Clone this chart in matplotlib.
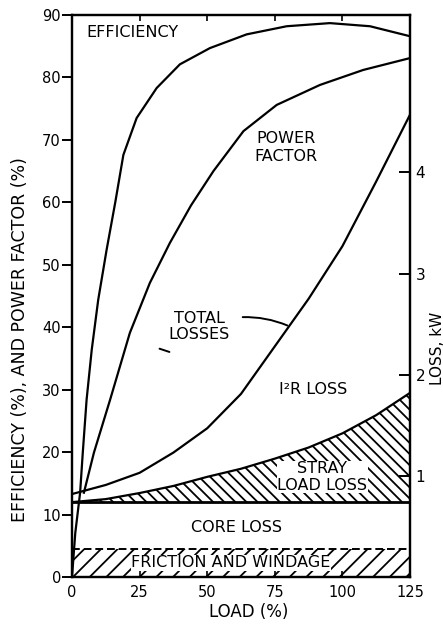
import matplotlib
matplotlib.use("Agg")
import matplotlib.pyplot as plt
import numpy as np

# ---------------- data ----------------
load_eff = [0, 1.2, 3, 4, 5.4, 7.3, 9.7, 12.8, 16, 19.0, 23.9, 31.3, 39.9, 51.0,
            64.6, 79.4, 95.4, 110.2, 125]
efficiency = [0, 7, 13.5, 20, 28.4, 36.4, 44.4, 52.4, 60, 67.6, 73.5, 78.3, 82.1,
              84.7, 86.9, 88.2, 88.7, 88.2, 86.6]

load_pf = [4.4, 8.1, 14.1, 21.4, 28.8, 36.2, 44, 52.3, 63.4, 75.7, 91.7, 107.7, 125]
power_factor = [13.5, 19.9, 28.4, 39.1, 47.1, 53.5, 59.5, 65.0, 71.4, 75.6, 78.8,
                81.2, 83.1]

load_loss = [0, 12.5, 25, 37.5, 50, 62.5, 75, 87.5, 100, 112.5, 125]
total_loss_kw = [0.82, 0.91, 1.03, 1.23, 1.47, 1.81, 2.28, 2.75, 3.27, 3.91, 4.57]
stray_loss_kw = [0, 0.03, 0.09, 0.16, 0.25, 0.33, 0.43, 0.54, 0.68, 0.86, 1.08]
friction_windage_kw = 0.28
core_loss_kw = 0.46

x_ticks = [0, 25, 50, 75, 100, 125]
y_ticks = [0, 10, 20, 30, 40, 50, 60, 70, 80, 90]
loss_ticks = [1, 2, 3, 4]
pct_per_kw = 16.2  # scale relation between left (%) and right (kW) axes

# ---------------- figure ----------------
plt.rcParams['font.family'] = ['DejaVu Sans']
plt.rcParams['hatch.linewidth'] = 1.3
plt.rcParams['hatch.color'] = 'black'

W, H = 443, 627
fig = plt.figure(figsize=(W / 100, H / 100), dpi=100)
L, R, T, B = 72, 410, 15, 577
ax = fig.add_axes([L / W, 1 - B / H, (R - L) / W, (B - T) / H])
ax.set_xlim(0, 125)
ax.set_ylim(0, 90)
ax2 = ax.twinx()
ax2.set_ylim(0, 90 / pct_per_kw)

for a in (ax, ax2):
    for s in a.spines.values():
        s.set_linewidth(1.6)

lw = 1.6
# efficiency and power factor on left axis
ax.plot(load_eff, efficiency, color='black', lw=lw, zorder=3)
ax.plot(load_pf, power_factor, color='black', lw=lw, zorder=3)

# losses on right axis
load_arr = np.array(load_loss)
fw = np.full(len(load_loss), friction_windage_kw)
core_top = fw + core_loss_kw
stray_top = core_top + np.array(stray_loss_kw)

ax2.fill_between(load_arr, 0, fw, facecolor='white', edgecolor='black',
                 hatch='//', linewidth=0, zorder=1)
ax2.plot(load_arr, fw, color='black', lw=1.4, ls=(0, (4, 2)), zorder=2)
ax2.fill_between(load_arr, core_top, stray_top, facecolor='white',
                 edgecolor='black', hatch='\\\\\\', linewidth=0, zorder=1)
ax2.plot(load_arr, core_top, color='black', lw=2.0, zorder=2)
ax2.plot(load_arr, stray_top, color='black', lw=lw, zorder=2)
ax2.plot(load_arr, total_loss_kw, color='black', lw=lw, zorder=2)

# ticks
ax.set_xticks(x_ticks)
ax.set_yticks(y_ticks)
ax.tick_params(axis='y', direction='out', length=7, width=1.4, pad=1, labelsize=10.5)
ax.tick_params(axis='x', direction='in', length=4, width=1.2, pad=6, labelsize=10.5,
               top=True)
ax2.set_yticks(loss_ticks)
ax2.tick_params(axis='y', direction='in', length=8, width=1.4, pad=4, labelsize=11)

# text labels
fs = 11.5
ax.text(5.2, 87.2, 'EFFICIENCY', ha='left', va='center', fontsize=fs, zorder=5)
ax.text(79.3, 68.8, 'POWER\nFACTOR', ha='center', va='center', fontsize=fs,
        linespacing=1.2, zorder=5)
ax.text(47, 40.1, 'TOTAL\nLOSSES', ha='center', va='center', fontsize=fs,
        linespacing=1.15, zorder=5)
ax.annotate('', xy=(80.6, 40.1), xytext=(62.1, 41.6),
            arrowprops=dict(arrowstyle='-', lw=1.4, color='black',
                            connectionstyle='arc3,rad=-0.12'), zorder=5)
ax.annotate('', xy=(37.0, 35.9), xytext=(31.4, 36.7),
            arrowprops=dict(arrowstyle='-', lw=1.4, color='black'), zorder=5)
ax.text(89.1, 30, 'I²R LOSS', ha='center', va='center', fontsize=fs, zorder=5)
ax.text(92.5, 16.0, 'STRAY\nLOAD LOSS', ha='center', va='center', fontsize=fs,
        linespacing=1.15, zorder=6,
        bbox=dict(facecolor='white', edgecolor='none', pad=0.3))
ax.text(60.8, 8.0, 'CORE LOSS', ha='center', va='center', fontsize=fs, zorder=5)
ax.text(58.8, 2.3, 'FRICTION AND WINDAGE', ha='center', va='center', fontsize=fs,
        zorder=6, bbox=dict(facecolor='white', edgecolor='none', pad=0.3))

ax.set_zorder(ax2.get_zorder() + 1)
ax.patch.set_visible(False)

# axis titles
fig.text(20 / W, 1 - 340 / H, 'EFFICIENCY (%), AND POWER FACTOR (%)', rotation=90,
         ha='center', va='center', fontsize=12.5)
fig.text(437 / W, 1 - 348 / H, 'LOSS, kW', rotation=90, ha='center', va='center',
         fontsize=11)
fig.text(249 / W, 1 - 612 / H, 'LOAD (%)', ha='center', va='center', fontsize=12)

fig.savefig('out.png', dpi=100)
